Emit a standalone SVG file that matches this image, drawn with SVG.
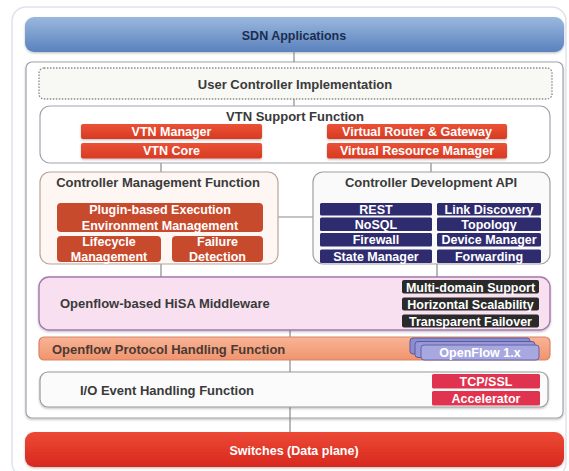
<svg xmlns="http://www.w3.org/2000/svg" width="569" height="471" viewBox="0 0 569 471">
<defs>
<linearGradient id="gBlue" x1="0" y1="0" x2="0" y2="1"><stop offset="0" stop-color="#9ab8de"/><stop offset="1" stop-color="#5a82bd"/></linearGradient>
<linearGradient id="gRed" x1="0" y1="0" x2="0" y2="1"><stop offset="0" stop-color="#ec4a36"/><stop offset="1" stop-color="#d8281e"/></linearGradient>
<linearGradient id="gBtn" x1="0" y1="0" x2="0" y2="1"><stop offset="0" stop-color="#ea5236"/><stop offset="1" stop-color="#d83a22"/></linearGradient>
<linearGradient id="gOrange" x1="0" y1="0" x2="0" y2="1"><stop offset="0" stop-color="#f8b496"/><stop offset="1" stop-color="#f0946e"/></linearGradient>
<filter id="sh" x="-5%" y="-10%" width="110%" height="130%"><feDropShadow dx="0" dy="1.2" stdDeviation="1" flood-color="#000" flood-opacity="0.25"/></filter>
</defs>
<style>
text{font-family:"Liberation Sans",Arial,sans-serif;font-weight:bold;font-size:12.5px}
.t{fill:#3a3a3a;text-anchor:middle;font-size:13px}
.tl{fill:#3a3a3a;font-size:13px}
.w{fill:#ffffff;text-anchor:middle}
.box{fill:#ffffff;stroke:#a0a4ac;stroke-width:1.2}
.red{fill:url(#gBtn)}
.brick{fill:#c84a2c}
.indigo{fill:#2f2b6f}
.dark{fill:#2a2a2a}
.crimson{fill:#e0334f}
.conn{stroke:#8a8a8a;stroke-width:1.2;fill:none}
</style>

<rect x="12" y="7" width="554" height="470" rx="14" fill="#ffffff" stroke="#dfe3ec" stroke-width="1.5"/>

<g id="sdn-applications">
<rect x="25" y="17" width="539" height="35" rx="9" fill="url(#gBlue)" filter="url(#sh)"/>
<text x="294" y="39.5" text-anchor="middle" fill="#1c2d50">SDN Applications</text>
</g>

<g id="controller-frame">
<rect x="26" y="62" width="537" height="356" rx="6" class="box" filter="url(#sh)"/>
</g>

<g id="connectors">
<line class="conn" x1="294" y1="52" x2="294" y2="62"/>
<line class="conn" x1="294" y1="99" x2="294" y2="106"/>
<line class="conn" x1="161" y1="163" x2="161" y2="172"/>
<line class="conn" x1="431" y1="163" x2="431" y2="172"/>
<line class="conn" x1="278" y1="217" x2="313" y2="217"/>
<line class="conn" x1="161" y1="264" x2="161" y2="277"/>
<line class="conn" x1="437" y1="264" x2="437" y2="277"/>
<line class="conn" x1="290" y1="330" x2="290" y2="337"/>
<line class="conn" x1="290" y1="360" x2="290" y2="372"/>
<line class="conn" x1="290" y1="407" x2="290" y2="432"/>
</g>

<g id="user-controller-implementation">
<rect x="39" y="68" width="513" height="31" rx="5" fill="#f8f8f5" stroke="#8a8a8a" stroke-width="1.3" stroke-dasharray="1.5 1.5"/>
<text class="t" x="295" y="88.5">User Controller Implementation</text>
</g>

<g id="vtn-support-function">
<rect x="40" y="106" width="510" height="57" rx="10" class="box"/>
<text class="t" x="295" y="120.5">VTN Support Function</text>
<g id="vtn-manager"><rect x="81" y="124" width="181" height="15" rx="2" class="red" filter="url(#sh)"/><text class="w" x="171.5" y="136">VTN Manager</text></g>
<g id="vtn-core"><rect x="81" y="143" width="181" height="15.5" rx="2" class="red" filter="url(#sh)"/><text class="w" x="171.5" y="155">VTN Core</text></g>
<g id="virtual-router-gateway"><rect x="327" y="124" width="180" height="15" rx="2" class="red" filter="url(#sh)"/><text class="w" x="417" y="136">Virtual Router &amp; Gateway</text></g>
<g id="virtual-resource-manager"><rect x="327" y="143" width="180" height="15.5" rx="2" class="red" filter="url(#sh)"/><text class="w" x="417" y="155">Virtual Resource Manager</text></g>
</g>

<g id="controller-management-function">
<rect x="40" y="172" width="238" height="92" rx="10" fill="#fdf6f3" stroke="#b8a49a" stroke-width="1.2"/>
<text class="t" x="158" y="187">Controller Management Function</text>
<g id="plugin-based"><rect x="57" y="203" width="206" height="29" rx="4" class="brick"/><text class="w" x="160" y="214">Plugin-based Execution</text><text class="w" x="160" y="229.5">Environment Management</text></g>
<g id="lifecycle-management"><rect x="57" y="236" width="104" height="26" rx="4" class="brick"/><text class="w" x="109" y="246">Lifecycle</text><text class="w" x="109" y="261">Management</text></g>
<g id="failure-detection"><rect x="172" y="236" width="91" height="26" rx="4" class="brick"/><text class="w" x="217.5" y="246">Failure</text><text class="w" x="217.5" y="261">Detection</text></g>
</g>

<g id="controller-development-api">
<rect x="313" y="172" width="237" height="92" rx="10" fill="#fafafa" stroke="#a0a0a0" stroke-width="1.2"/>
<text class="t" x="431" y="187">Controller Development API</text>
<g id="rest"><rect x="320" y="203" width="112" height="12.5" rx="1.5" class="indigo"/><text class="w" x="376" y="213.5">REST</text></g>
<g id="nosql"><rect x="320" y="217.5" width="112" height="13.5" rx="1.5" class="indigo"/><text class="w" x="376" y="228.5">NoSQL</text></g>
<g id="firewall"><rect x="320" y="233" width="112" height="13.5" rx="1.5" class="indigo"/><text class="w" x="376" y="244">Firewall</text></g>
<g id="state-manager"><rect x="320" y="249.5" width="112" height="13.5" rx="1.5" class="indigo"/><text class="w" x="376" y="260.5">State Manager</text></g>
<g id="link-discovery"><rect x="437" y="203" width="104" height="12.5" rx="1.5" class="indigo"/><text class="w" x="489" y="213.5">Link Discovery</text></g>
<g id="topology"><rect x="437" y="217.5" width="104" height="13.5" rx="1.5" class="indigo"/><text class="w" x="489" y="228.5">Topology</text></g>
<g id="device-manager"><rect x="437" y="233" width="104" height="13.5" rx="1.5" class="indigo"/><text class="w" x="489" y="244">Device Manager</text></g>
<g id="forwarding"><rect x="437" y="249.5" width="104" height="13.5" rx="1.5" class="indigo"/><text class="w" x="489" y="260.5">Forwarding</text></g>
</g>

<g id="hisa-middleware">
<rect x="39" y="277" width="511" height="53" rx="10" fill="#f8e0f0" stroke="#a478ae" stroke-width="1.4" filter="url(#sh)"/>
<text class="tl" x="60" y="307.5">Openflow-based HiSA Middleware</text>
<g id="multi-domain-support"><rect x="402" y="280" width="137" height="13.5" rx="2" class="dark"/><text class="w" x="470.5" y="291.5">Multi-domain Support</text></g>
<g id="horizontal-scalability"><rect x="402" y="297.5" width="137" height="13" rx="2" class="dark"/><text class="w" x="470.5" y="308.5">Horizontal Scalability</text></g>
<g id="transparent-failover"><rect x="402" y="314.5" width="137" height="13" rx="2" class="dark"/><text class="w" x="470.5" y="325.5">Transparent Failover</text></g>
</g>

<g id="openflow-protocol-handling">
<rect x="39" y="337" width="511" height="23" rx="5" fill="url(#gOrange)" stroke="#d88466" stroke-width="1.2"/>
<text class="tl" x="52" y="353.5" style="fill:#4a3a34">Openflow Protocol Handling Function</text>
<g id="openflow-1x">
<rect x="410" y="338" width="120" height="16" rx="3" fill="#8c8cd0" stroke="#5a5aa0" stroke-width="1"/>
<rect x="415" y="341.5" width="120" height="16" rx="3" fill="#9898d6" stroke="#5a5aa0" stroke-width="1"/>
<rect x="421" y="345" width="118" height="15" rx="3" fill="#a8a8e0" stroke="#6262a8" stroke-width="1"/>
<text class="w" x="480" y="357">OpenFlow 1.x</text>
</g>
</g>

<g id="io-event-handling">
<rect x="40" y="372" width="508" height="35" rx="8" fill="#fbfbfb" stroke="#9a9a9a" stroke-width="1.2" filter="url(#sh)"/>
<text class="tl" x="80" y="394.5">I/O Event Handling Function</text>
<g id="tcp-ssl"><rect x="432" y="374" width="108" height="14.5" rx="1.5" class="crimson"/><text class="w" x="486" y="385.5">TCP/SSL</text></g>
<g id="accelerator"><rect x="432" y="391" width="108" height="14.5" rx="1.5" class="crimson"/><text class="w" x="486" y="403">Accelerator</text></g>
</g>

<g id="switches">
<rect x="25" y="432" width="539" height="35" rx="9" fill="url(#gRed)" filter="url(#sh)"/>
<text class="w" x="294" y="454.5">Switches (Data plane)</text>
</g>
</svg>
